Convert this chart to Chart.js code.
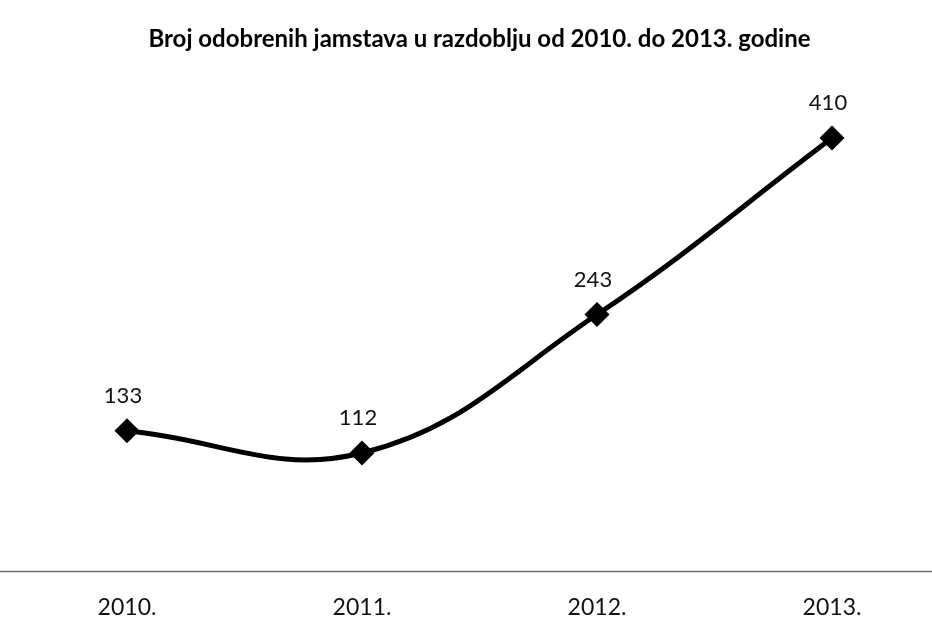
<!DOCTYPE html>
<html>
<head>
<meta charset="utf-8">
<script src="https://cdn.jsdelivr.net/npm/chart.js@4"></script>
<style>
  html, body { margin: 0; padding: 0; background: #fff; }
  #wrap { width: 932px; height: 626px; }
</style>
</head>
<body>
<div id="wrap"><canvas id="chart" width="932" height="626"></canvas></div>
<script>
// data
const years = ["2010.", "2011.", "2012.", "2013."];
const guarantees = [133, 112, 243, 410];
const chartTitle = "Broj odobrenih jamstava u razdoblju od 2010. do 2013. godine";

const fontFamily = "Lato, 'Open Sans', sans-serif";

// horizontal baseline across the whole picture at y = 0
const baseline = {
  id: "baseline",
  beforeDatasetsDraw(chart) {
    const ctx = chart.ctx;
    const y = chart.scales.y.getPixelForValue(0);
    ctx.save();
    ctx.strokeStyle = "#6e6e6e";
    ctx.lineWidth = 1.5;
    ctx.beginPath();
    ctx.moveTo(0, y);
    ctx.lineTo(chart.width, y);
    ctx.stroke();
    ctx.restore();
  }
};

// value labels above points
const valueLabels = {
  id: "valueLabels",
  afterDatasetsDraw(chart) {
    const ctx = chart.ctx;
    const meta = chart.getDatasetMeta(0);
    ctx.save();
    ctx.fillStyle = "#111";
    ctx.font = "22px " + fontFamily;
    ctx.textAlign = "center";
    ctx.textBaseline = "middle";
    meta.data.forEach((pt, i) => {
      ctx.fillText(String(guarantees[i]), pt.x - 4, pt.y - 35);
    });
    ctx.restore();
  }
};

new Chart(document.getElementById("chart"), {
  type: "line",
  data: {
    labels: years,
    datasets: [{
      data: guarantees,
      borderColor: "#000",
      borderWidth: 5,
      tension: 0.4,
      pointStyle: "rectRot",
      pointRadius: 9,
      pointBackgroundColor: "#000",
      pointBorderColor: "#000",
      fill: false
    }]
  },
  options: {
    responsive: false,
    animation: false,
    layout: { padding: { left: 127, right: 100, top: 0, bottom: -17 } },
    plugins: {
      legend: { display: false },
      tooltip: { enabled: false },
      title: {
        display: true,
        text: chartTitle,
        color: "#000",
        font: { family: fontFamily, size: 24, weight: "bold" },
        padding: { top: 25, bottom: 6 }
      }
    },
    scales: {
      x: {
        offset: false,
        grid: { display: false, drawTicks: false },
        border: { display: false },
        ticks: {
          color: "#111",
          padding: 22,
          maxRotation: 0,
          font: { family: fontFamily, size: 23 }
        }
      },
      y: {
        display: false,
        min: 0,
        max: 484
      }
    }
  },
  plugins: [baseline, valueLabels]
});
</script>
</body>
</html>
